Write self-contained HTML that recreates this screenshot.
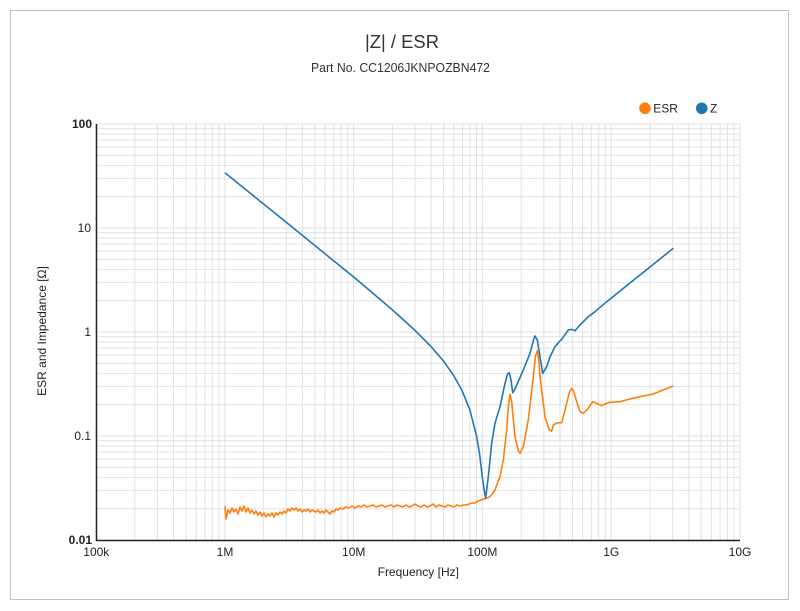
<!DOCTYPE html>
<html><head><meta charset="utf-8"><style>
html,body{margin:0;padding:0;background:#fff;}
svg{display:block;}
text{font-family:"Liberation Sans",Arial,sans-serif;}
</style></head><body>
<svg width="800" height="611" viewBox="0 0 800 611" xmlns="http://www.w3.org/2000/svg">
<rect x="0" y="0" width="800" height="611" fill="#fff"/>
<rect x="10.5" y="10.5" width="778" height="589" fill="none" stroke="#c0c0c0" stroke-width="1"/>

<!-- grid -->
<g stroke="#e2e2e2" stroke-width="1" fill="none">
<path d="M96,124V540M134.8,124V540M157.4,124V540M173.5,124V540M186,124V540M196.2,124V540M204.9,124V540M212.3,124V540M218.9,124V540
M224.8,124V540M263.6,124V540M286.3,124V540M302.4,124V540M314.8,124V540M325,124V540M333.7,124V540M341.1,124V540M347.7,124V540
M353.6,124V540M392.4,124V540M415.1,124V540M431.2,124V540M443.6,124V540M453.8,124V540M462.5,124V540M469.9,124V540M476.5,124V540
M482.4,124V540M521.2,124V540M543.9,124V540M560,124V540M572.4,124V540M582.6,124V540M591.3,124V540M598.7,124V540M605.3,124V540
M611.2,124V540M650,124V540M672.7,124V540M688.8,124V540M701.2,124V540M711.4,124V540M720.1,124V540M727.5,124V540M734.1,124V540M740,124V540"/>
<path d="M96,508.7H740M96,490.4H740M96,477.4H740M96,467.3H740M96,459.1H740M96,452.1H740M96,446.1H740M96,440.8H740
M96,436H740M96,404.7H740M96,386.4H740M96,373.4H740M96,363.3H740M96,355.1H740M96,348.1H740M96,342.1H740M96,336.8H740
M96,332H740M96,300.7H740M96,282.4H740M96,269.4H740M96,259.3H740M96,251.1H740M96,244.1H740M96,238.1H740M96,232.8H740
M96,228H740M96,196.7H740M96,178.4H740M96,165.4H740M96,155.3H740M96,147.1H740M96,140.1H740M96,134.1H740M96,128.8H740M96,124H740"/>
</g>

<!-- axes -->
<path d="M96.5,124V540.5H740" stroke="#222" stroke-width="1.5" fill="none"/>

<!-- ESR -->
<polyline fill="none" stroke="#ff7f0e" stroke-width="1.6" stroke-linejoin="round" points="
225,506 226,519 228,510 230,513 232,508 234,512 236,509 238,514 240,507 242,511 244,506 246,512 248,508 250,513 252,510 254,514 256,511 258,515 260,512 262,516 264,513 266,517 268,514 270,516 272,513 274,517 276,513 278,515 280,512 282,514 284,511 286,513 288,509 290,511 292,508 294,510 296,508 298,511 300,509 302,512 304,510 306,511 308,509 310,512 312,510 314,511 316,512 318,510 320,513 322,511 324,513 326,510 328,512 330,514 332,511 334,512 336,509 338,510 340,508 343,509 346,507 349,508 352,506 355,508 358,506 361,507 364,505 367,507 370,506 373,505 376,507 379,506 382,505 385,507 388,506 391,505 394,507 397,505 400,506 403,507 406,505 409,507 412,506 415,504 418,506 421,507 424,505 427,507 430,506 433,504 436,507 439,505 442,506 445,507 448,505 451,506 454,507 457,505 460,506 463,505 466,505 469,504 472,503 475,503 478,501 481,500 484,499 487,498
490,496.7 495,490 500,476.7 503.3,460 506.7,430 508.3,406.7 510,394 511.7,402 515,436.7 518,450 520,453.3 523.3,446.7 528.3,420 533.3,376.7 535.5,356 537.3,350.7 539,362 540,376.7 545,416.7 549.3,430 551.7,431 553.3,425 556.7,423 561.7,422.7 566.7,403.3 569.5,392 571.7,388.3 573.5,391 576.7,401.7 580,411.7 583.3,413.3 588.3,408.3 592.7,401.7 596.7,403.3 601.7,405.7 606,403.5 610,402.3 620,401.7 630,399 640,396.7 653.3,394 663,390 673.3,386"/>

<!-- Z -->
<polyline fill="none" stroke="#1f77b4" stroke-width="1.6" stroke-linejoin="round" points="
225,172.8 289,224.5 354,277.3 376.3,296.1 392.4,309.9 415,330.4 431.1,346.6 443.6,361.2 453.8,375.7 462.4,391.3 469.9,410.1 476.5,436 479.5,453.3 482.4,477.8 484.5,492 485.7,498
488.3,476.7 491.7,443.3 495,423.3 500,406.7 505,383.3 507.5,374 509.3,372.7 511,380 512.7,392.7 514,391 516.7,385 523.3,370 530,353.3 533.5,340 535,336 537.3,340 540,356.7 542.7,373.3 546.7,366.7 550,357 555,346.7 559.3,341.7 561.7,339.3 568.3,330 571.7,329.3 575,330.7 580,325 588.3,316.7 595,311.7 606.7,301.7 640,275 673.3,248.3"/>

<!-- y tick labels -->
<g font-size="12" fill="#222" text-anchor="end">
<text x="92" y="128" font-weight="bold">100</text>
<text x="91" y="232">10</text>
<text x="91" y="336">1</text>
<text x="91" y="440">0.1</text>
<text x="92" y="544" font-weight="bold">0.01</text>
</g>
<!-- x tick labels -->
<g font-size="12" fill="#222" text-anchor="middle">
<text x="96.3" y="556">100k</text>
<text x="225" y="556">1M</text>
<text x="353.7" y="556">10M</text>
<text x="482.4" y="556">100M</text>
<text x="611.2" y="556">1G</text>
<text x="740" y="556">10G</text>
</g>

<text x="418.3" y="576" font-size="12" fill="#222" text-anchor="middle">Frequency [Hz]</text>
<text transform="translate(46,331) rotate(-90)" font-size="12" fill="#222" text-anchor="middle">ESR and Impedance [Ω]</text>

<!-- titles -->
<text x="365" y="48" font-size="18" fill="#333" textLength="74" lengthAdjust="spacingAndGlyphs">|Z| / ESR</text>
<text x="311" y="72" font-size="12.5" fill="#333" textLength="179" lengthAdjust="spacingAndGlyphs">Part No. CC1206JKNPOZBN472</text>

<!-- legend -->
<circle cx="645" cy="108.3" r="5.8" fill="#ff7f0e"/>
<text x="653.3" y="112.7" font-size="12" fill="#222">ESR</text>
<circle cx="701.7" cy="108.3" r="5.8" fill="#1f77b4"/>
<text x="710" y="112.7" font-size="12" fill="#222">Z</text>
</svg>
</body></html>
